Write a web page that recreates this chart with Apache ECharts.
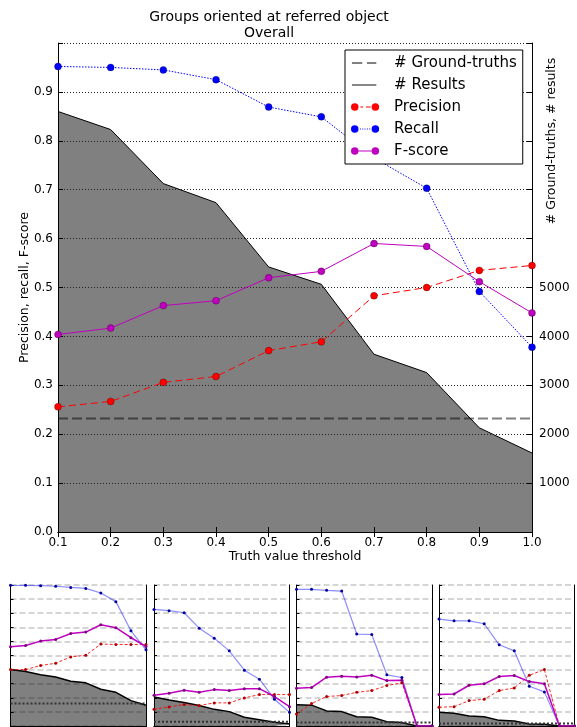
<!DOCTYPE html>
<html>
<head>
<meta charset="utf-8">
<script src="https://cdn.jsdelivr.net/npm/echarts@6/dist/echarts.min.js"></script>
<style>
  html, body { margin: 0; padding: 0; background: #fff; }
  #chart { width: 577px; height: 727px; }
</style>
</head>
<body>
<div id="chart"></div>
<script>
// Truth value thresholds shared by every panel
const thresholds = ['0.1', '0.2', '0.3', '0.4', '0.5', '0.6', '0.7', '0.8', '0.9', '1.0'];

// Right-axis labels that are printed (counts)
const countTickLabels = [1000, 2000, 3000, 4000, 5000];

// Overall scores
const overallPrecision = [0.256, 0.267, 0.306, 0.318, 0.371, 0.389, 0.483, 0.500, 0.535, 0.545];
const overallRecall    = [0.952, 0.950, 0.945, 0.925, 0.869, 0.849, 0.765, 0.703, 0.492, 0.378];
const overallFscore    = [0.404, 0.417, 0.463, 0.473, 0.520, 0.533, 0.590, 0.584, 0.512, 0.448];
const overallResults   = [8600, 8230, 7125, 6735, 5420, 5065, 3635, 3260, 2130, 1615];
const overallTruths    = [2320, 2320, 2320, 2320, 2320, 2320, 2320, 2320, 2320, 2320];

// Group 1
const group1Precision = [0.400, 0.400, 0.429, 0.445, 0.490, 0.502, 0.581, 0.578, 0.578, 0.578];
const group1Recall    = [0.998, 0.998, 0.995, 0.991, 0.983, 0.976, 0.943, 0.882, 0.675, 0.540];
const group1Fscore    = [0.562, 0.571, 0.602, 0.614, 0.656, 0.666, 0.718, 0.697, 0.626, 0.564];
const group1Results   = [4000, 3860, 3630, 3480, 3180, 3060, 2610, 2390, 1800, 1470];
const group1Truths    = [1590, 1590, 1590, 1590, 1590, 1590, 1590, 1590, 1590, 1590];

// Group 2
const group2Precision = [0.118, 0.135, 0.152, 0.145, 0.164, 0.164, 0.199, 0.223, 0.223, 0.223];
const group2Recall    = [0.827, 0.818, 0.803, 0.694, 0.623, 0.533, 0.396, 0.332, 0.190, 0.097];
const group2Fscore    = [0.218, 0.232, 0.254, 0.239, 0.258, 0.251, 0.265, 0.265, 0.209, 0.137];
const group2Results   = [2060, 1850, 1660, 1450, 1180, 1020, 620, 450, 260, 140];
const group2Truths    = [310, 310, 310, 310, 310, 310, 310, 310, 310, 310];

// Group 3
const group3Precision = [0.085, 0.159, 0.209, 0.216, 0.239, 0.251, 0.287, 0.306, 0, 0];
const group3Recall    = [0.969, 0.969, 0.962, 0.957, 0.652, 0.649, 0.363, 0.344, 0, 0];
const group3Fscore    = [0.268, 0.273, 0.346, 0.353, 0.348, 0.360, 0.322, 0.325, 0, 0];
const group3Results   = [1500, 1480, 1070, 1020, 660, 620, 310, 240, 0, 0];
const group3Truths    = [240, 240, 240, 240, 240, 240, 240, 240, 240, 240];

// Group 4
const group4Precision = [0.133, 0.137, 0.180, 0.190, 0.251, 0.270, 0.360, 0.400, 0, 0];
const group4Recall    = [0.758, 0.746, 0.746, 0.725, 0.576, 0.533, 0.282, 0.242, 0, 0];
const group4Fscore    = [0.223, 0.227, 0.289, 0.299, 0.351, 0.358, 0.315, 0.299, 0, 0];
const group4Results   = [970, 900, 710, 660, 400, 360, 140, 120, 0, 0];
const group4Truths    = [170, 170, 170, 170, 170, 170, 170, 170, 170, 170];

const groups = [
  { precision: group1Precision, recall: group1Recall, fscore: group1Fscore, results: group1Results, truths: group1Truths },
  { precision: group2Precision, recall: group2Recall, fscore: group2Fscore, results: group2Results, truths: group2Truths },
  { precision: group3Precision, recall: group3Recall, fscore: group3Fscore, results: group3Results, truths: group3Truths },
  { precision: group4Precision, recall: group4Recall, fscore: group4Fscore, results: group4Results, truths: group4Truths }
];

const FONT = 'DejaVu Sans';
const COUNT_MAX = 10000;

// ---------- layout ----------
const grids = [{ left: 58, top: 43, width: 474, height: 489 }];
const smallLefts = [10.5, 154, 296.5, 439];
smallLefts.forEach(l => grids.push({ left: l, top: 585, width: 135.5, height: 141 }));

const black = { show: true, lineStyle: { color: '#000', width: 1 } };

// ---------- axes ----------
const xAxes = [
  {
    gridIndex: 0, type: 'category', data: thresholds, boundaryGap: false, position: 'bottom',
    axisLine: black, z: 2,
    axisTick: { show: true, inside: true, length: 5, interval: 0, lineStyle: { color: '#000' } },
    axisLabel: { interval: 0, margin: 5, color: '#000', fontFamily: FONT, fontSize: 12 },
    name: 'Truth value threshold', nameLocation: 'middle', nameGap: 18, nameMoveOverlap: false,
    nameTextStyle: { color: '#000', fontFamily: FONT, fontSize: 12.5 }
  },
  {
    gridIndex: 0, type: 'category', data: thresholds, boundaryGap: false, position: 'top',
    axisLine: black, z: 2,
    axisTick: { show: true, inside: true, length: 5, interval: 0, lineStyle: { color: '#000' } },
    axisLabel: { show: false }
  }
];
const yAxes = [
  {
    gridIndex: 0, type: 'value', min: 0, max: 1, interval: 0.1, position: 'left', z: 2,
    axisLine: black,
    axisTick: { show: true, inside: true, length: 5, lineStyle: { color: '#000' } },
    axisLabel: {
      margin: 5, color: '#000', fontFamily: FONT, fontSize: 12,
      formatter: v => (v >= 1 ? '' : v.toFixed(1))
    },
    splitLine: { show: true, lineStyle: { color: '#222', width: 1, type: [1, 2] } },
    name: 'Precision, recall, F-score', nameLocation: 'middle', nameRotate: 90, nameGap: 27,
    nameMoveOverlap: false,
    nameTextStyle: { color: '#000', fontFamily: FONT, fontSize: 12.5 }
  },
  {
    gridIndex: 0, type: 'value', min: 0, max: COUNT_MAX, interval: 1000, position: 'right', z: 2,
    axisLine: black,
    axisTick: { show: true, inside: true, length: 5, lineStyle: { color: '#000' } },
    axisLabel: {
      margin: 7, color: '#000', fontFamily: FONT, fontSize: 12,
      formatter: v => (countTickLabels.indexOf(v) >= 0 ? String(v) : '')
    },
    splitLine: { show: false }
  }
];

groups.forEach((g, i) => {
  const gi = i + 1;
  xAxes.push({
    gridIndex: gi, type: 'category', data: thresholds, boundaryGap: false, position: 'bottom',
    axisLine: black, axisTick: { show: false }, axisLabel: { show: false }, z: 2
  });
  xAxes.push({
    gridIndex: gi, type: 'category', data: thresholds, boundaryGap: false, position: 'top',
    axisLine: black, z: 2,
    axisTick: { show: true, inside: true, length: 3, interval: 0, lineStyle: { color: '#000' } },
    axisLabel: { show: false }
  });
  yAxes.push({
    gridIndex: gi, type: 'value', min: 0, max: 1, interval: 0.1, position: 'left', z: 2,
    axisLine: black,
    axisTick: { show: true, inside: true, length: 3, lineStyle: { color: '#000' } },
    axisLabel: { show: false },
    splitLine: { show: true, lineStyle: { color: 'rgba(0,0,0,0.22)', width: 1.5, type: [6, 3] } }
  });
  yAxes.push({
    gridIndex: gi, type: 'value', min: 0, max: COUNT_MAX, interval: 1000, position: 'right', z: 2,
    axisLine: black, axisTick: { show: false }, axisLabel: { show: false }, splitLine: { show: false }
  });
});

// ---------- series ----------
const markerEdge = { borderColor: 'rgba(0,0,0,0.55)', borderWidth: 0.5 };
const series = [
  {
    name: '# Results', type: 'line', xAxisIndex: 0, yAxisIndex: 1, data: overallResults,
    symbol: 'none', z: 1, silent: true,
    lineStyle: { color: '#000', width: 1 },
    itemStyle: { color: '#606060' },
    areaStyle: { color: '#808080', opacity: 1 }
  },
  {
    name: '# Ground-truths', type: 'line', xAxisIndex: 0, yAxisIndex: 1, data: overallTruths,
    symbol: 'none', z: 3, silent: true,
    lineStyle: { color: 'rgba(0,0,0,0.5)', width: 2, type: [10, 4] },
    itemStyle: { color: '#808080' }
  },
  {
    name: 'Precision', type: 'line', xAxisIndex: 0, yAxisIndex: 0, data: overallPrecision,
    symbol: 'circle', symbolSize: 7, z: 4,
    lineStyle: { color: '#ff0000', width: 1, type: [7, 4] },
    itemStyle: Object.assign({ color: '#ff0000' }, markerEdge)
  },
  {
    name: 'Recall', type: 'line', xAxisIndex: 0, yAxisIndex: 0, data: overallRecall,
    symbol: 'circle', symbolSize: 7, z: 4,
    lineStyle: { color: '#0000ff', width: 1, type: [1.5, 1.5] },
    itemStyle: Object.assign({ color: '#0000ff' }, markerEdge)
  },
  {
    name: 'F-score', type: 'line', xAxisIndex: 0, yAxisIndex: 0, data: overallFscore,
    symbol: 'circle', symbolSize: 7, z: 4,
    lineStyle: { color: '#bf00bf', width: 1 },
    itemStyle: Object.assign({ color: '#bf00bf' }, markerEdge)
  }
];

groups.forEach((g, i) => {
  const xb = 2 + 2 * i, yl = 2 + 2 * i, yr = 3 + 2 * i;
  const tag = 'Group ' + (i + 1) + ' ';
  series.push(
    {
      name: tag + 'results', type: 'line', xAxisIndex: xb, yAxisIndex: yr, data: g.results,
      symbol: 'none', z: 1, silent: true,
      lineStyle: { color: '#000', width: 1.5 },
      areaStyle: { color: '#808080', opacity: 1 }
    },
    {
      name: tag + 'ground-truths', type: 'line', xAxisIndex: xb, yAxisIndex: yr, data: g.truths,
      symbol: 'none', z: 3, silent: true,
      lineStyle: { color: '#333', width: 2, type: [2, 2] }
    },
    {
      name: tag + 'precision', type: 'line', xAxisIndex: xb, yAxisIndex: yl, data: g.precision,
      symbol: 'circle', symbolSize: 3, z: 4,
      lineStyle: { color: 'rgba(255,0,0,0.85)', width: 1, type: [3, 2] },
      itemStyle: { color: '#b00000' }
    },
    {
      name: tag + 'recall', type: 'line', xAxisIndex: xb, yAxisIndex: yl, data: g.recall,
      symbol: 'circle', symbolSize: 3, z: 4,
      lineStyle: { color: 'rgba(0,0,255,0.45)', width: 1.2 },
      itemStyle: { color: '#0000a0' }
    },
    {
      name: tag + 'F-score', type: 'line', xAxisIndex: xb, yAxisIndex: yl, data: g.fscore,
      symbol: 'circle', symbolSize: 3, z: 4,
      lineStyle: { color: '#bf00bf', width: 1.5 },
      itemStyle: { color: '#800080' }
    }
  );
});

// ---------- legend handles (30 x 8 box) ----------
const corners = 'M0,0L0.01,0L0,0.01Z M30,8L29.99,8L30,7.99Z ';
const rect = (x0, y0, x1, y1) => `M${x0},${y0}L${x1},${y0}L${x1},${y1}L${x0},${y1}Z `;
const markerPair = 'M0,4A4,4,0,1,1,8,4A4,4,0,1,1,0,4Z M22,4A4,4,0,1,1,30,4A4,4,0,1,1,22,4Z ';
let dotted = '';
[9.5, 12, 14.5, 17, 19.5].forEach(x => { dotted += rect(x, 3.5, x + 1, 4.5); });

const legendItems = [
  { name: '# Ground-truths', icon: 'path://' + corners + rect(1, 3, 12, 5) + rect(17, 3, 27, 5), itemStyle: { color: '#808080', borderWidth: 0 } },
  { name: '# Results', icon: 'path://' + corners + rect(1, 3.25, 27, 4.75), itemStyle: { color: '#606060', borderWidth: 0 } },
  { name: 'Precision', icon: 'path://' + markerPair + rect(10, 3.5, 13, 4.5) + rect(16, 3.5, 21, 4.5), itemStyle: { color: '#ff0000', borderWidth: 0 } },
  { name: 'Recall', icon: 'path://' + markerPair + dotted, itemStyle: { color: '#0000ff', borderWidth: 0 } },
  { name: 'F-score', icon: 'path://' + markerPair + rect(8, 3.5, 22, 4.5), itemStyle: { color: '#bf00bf', borderWidth: 0 } }
];

const option = {
  animation: false,
  backgroundColor: '#fff',
  title: {
    text: 'Groups oriented at referred object\nOverall',
    left: 264, top: 4, textAlign: 'center',
    textStyle: { fontFamily: FONT, fontSize: 14, fontWeight: 'normal', color: '#000', lineHeight: 16.5 }
  },
  legend: {
    orient: 'vertical', left: 345, top: 50, z: 10,
    padding: [4, 6, 4, 6], itemGap: 4, itemWidth: 30, itemHeight: 7.5,
    borderColor: '#000', borderWidth: 1, backgroundColor: '#fff',
    selectedMode: false,
    textStyle: { fontFamily: FONT, fontSize: 15, color: '#000', lineHeight: 18, padding: [0, 0, 0, 9] },
    data: legendItems
  },
  grid: grids,
  xAxis: xAxes,
  yAxis: yAxes,
  series: series,
  graphic: [
    {
      type: 'text', x: 552, y: 141, rotation: Math.PI / 2, z: 10,
      style: {
        text: '# Ground-truths, # results', fill: '#000',
        font: '12.5px "' + FONT + '"', align: 'center', verticalAlign: 'middle'
      }
    }
  ]
};

const chart = echarts.init(document.getElementById('chart'), null, { renderer: 'canvas' });
chart.setOption(option);
</script>
</body>
</html>
